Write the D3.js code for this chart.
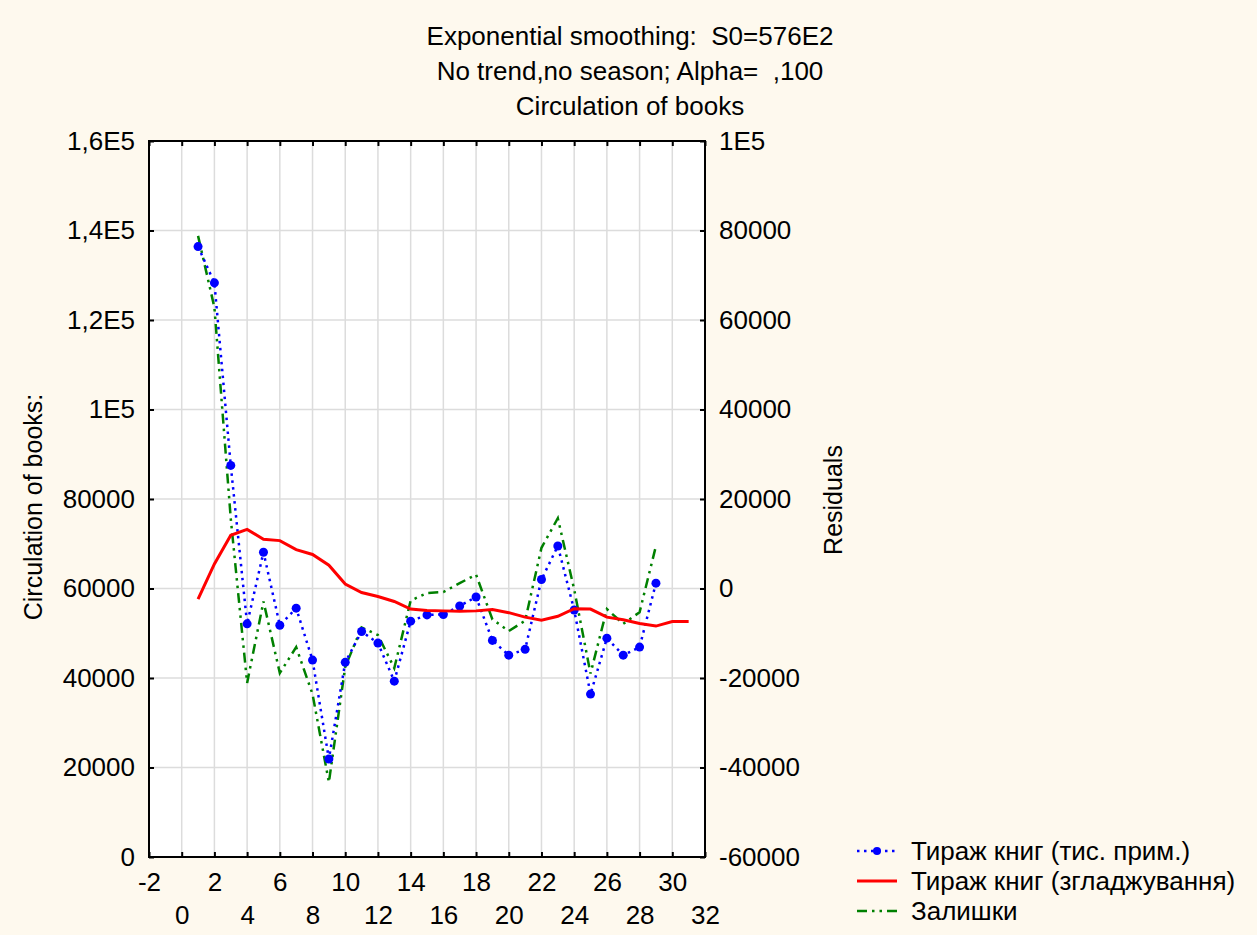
<!DOCTYPE html>
<html>
<head>
<meta charset="utf-8">
<script src="https://cdn.jsdelivr.net/npm/d3@7"></script>
<style>
  body { margin: 0; background: #fef9ee; }
  svg { display: block; font-family: "Liberation Sans", Arial, sans-serif; }
  svg text { white-space: pre; }
</style>
</head>
<body>
<div id="chart"></div>
<script>
// data
const periods = d3.range(1, 30)            // 1..29 observed
const smoothPeriods = d3.range(1, 32)      // 1..31 smoothed
const observed = [136400, 128300, 87500, 52100, 68100, 51800, 55600, 44000, 21900, 43500,
                  50400, 47800, 39300, 52700, 54100, 54200, 56100, 58100, 48400, 45100,
                  46400, 62000, 69500, 55200, 36400, 48900, 45100, 46900, 61200]
const smoothed = [57600, 65500, 71900, 73200, 71000, 70700, 68700, 67600, 65200, 61000,
                  59100, 58200, 57100, 55400, 55100, 55000, 54900, 55000, 55300, 54600,
                  53600, 52900, 53800, 55500, 55400, 53600, 53000, 52200, 51600, 52600, 52600]
const residuals = [78800, 62800, 15600, -21100, -2900, -18900, -13100, -23600, -43300, -17500,
                   -8700, -10400, -17800, -2700, -1000, -800, 1200, 3100, -6900, -9500,
                   -7200, 9100, 15700, -200, -19000, -4600, -7900, -5300, 9500]

const titleLines = ["Exponential smoothing:  S0=576E2", "No trend,no season; Alpha=  ,100", "Circulation of books"]
const leftTicks = [0, 20000, 40000, 60000, 80000, 100000, 120000, 140000, 160000]
const leftLabels = ["0", "20000", "40000", "60000", "80000", "1E5", "1,2E5", "1,4E5", "1,6E5"]
const rightTicks = [-60000, -40000, -20000, 0, 20000, 40000, 60000, 80000, 100000]
const rightLabels = ["-60000", "-40000", "-20000", "0", "20000", "40000", "60000", "80000", "1E5"]
const xTicks = d3.range(-2, 33, 2)
const legendNames = ["Тираж книг (тис. прим.)", "Тираж книг (згладжування)", "Залишки"]

const W = 1257, H = 935
const plot = {left: 149, right: 705, top: 141, bottom: 857}
const fs = 26      // horizontal text
const fsRot = 25   // rotated axis titles

const svg = d3.select("#chart").append("svg")
  .attr("width", W).attr("height", H)

svg.append("rect").attr("width", W).attr("height", H).attr("fill", "#fef9ee")

const x = d3.scaleLinear().domain([-2, 32]).range([plot.left, plot.right])
const yL = d3.scaleLinear().domain([0, 160000]).range([plot.bottom, plot.top])
const yR = d3.scaleLinear().domain([-60000, 100000]).range([plot.bottom, plot.top])

// plot background
svg.append("rect")
  .attr("x", plot.left).attr("y", plot.top)
  .attr("width", plot.right - plot.left).attr("height", plot.bottom - plot.top)
  .attr("fill", "white")

// grid
svg.append("g").selectAll("line")
  .data(xTicks.filter(d => d > -2 && d < 32))
  .join("line")
  .attr("x1", d => x(d)).attr("x2", d => x(d))
  .attr("y1", plot.top).attr("y2", plot.bottom)
  .attr("stroke", "#dcdcdc").attr("stroke-width", 1.5)
svg.append("g").selectAll("line")
  .data(leftTicks.slice(1, -1))
  .join("line")
  .attr("x1", plot.left).attr("x2", plot.right)
  .attr("y1", d => yL(d)).attr("y2", d => yL(d))
  .attr("stroke", "#dcdcdc").attr("stroke-width", 1.5)

// axes
function styleAxis(g){
  g.select(".domain").remove()
  g.selectAll(".tick line").attr("stroke", "#000").attr("stroke-width", 2)
  g.selectAll(".tick text").attr("fill", "#000").style("font-size", fs + "px")
}

svg.append("g")
  .attr("transform", `translate(${plot.left},0)`)
  .call(d3.axisLeft(yL).tickValues(leftTicks).tickSize(-5).tickPadding(14)
    .tickFormat((d, i) => leftLabels[i]))
  .call(styleAxis)

svg.append("g")
  .attr("transform", `translate(${plot.right},0)`)
  .call(d3.axisRight(yR).tickValues(rightTicks).tickSize(-5).tickPadding(14)
    .tickFormat((d, i) => rightLabels[i]))
  .call(styleAxis)

const xAxis = svg.append("g")
  .attr("transform", `translate(0,${plot.bottom})`)
  .call(d3.axisBottom(x).tickValues(xTicks).tickSize(-5).tickPadding(16)
    .tickFormat(d => d))
  .call(styleAxis)
xAxis.selectAll(".tick text")
  .attr("dy", (d, i) => i % 2 === 0 ? "0.71em" : "1.97em")

svg.append("g")
  .attr("transform", `translate(0,${plot.top})`)
  .call(d3.axisTop(x).tickValues(xTicks).tickSize(-5).tickFormat(""))
  .call(styleAxis)

// frame
svg.append("rect")
  .attr("x", plot.left).attr("y", plot.top)
  .attr("width", plot.right - plot.left).attr("height", plot.bottom - plot.top)
  .attr("fill", "none").attr("stroke", "#000").attr("stroke-width", 2)

// series
const lineL = d3.line().x(d => x(d[0])).y(d => yL(d[1]))
const lineR = d3.line().x(d => x(d[0])).y(d => yR(d[1]))

svg.append("path")
  .datum(periods.map((p, i) => [p, residuals[i]]))
  .attr("d", lineR)
  .attr("fill", "none").attr("stroke", "#008000").attr("stroke-width", 2.5)
  .attr("stroke-dasharray", "10,5,2.5,5,2.5,5")

svg.append("path")
  .datum(periods.map((p, i) => [p, observed[i]]))
  .attr("d", lineL)
  .attr("fill", "none").attr("stroke", "#0000ff").attr("stroke-width", 2.5)
  .attr("stroke-dasharray", "2.5,4.5")

svg.append("g").selectAll("circle")
  .data(periods.map((p, i) => [p, observed[i]]))
  .join("circle")
  .attr("cx", d => x(d[0])).attr("cy", d => yL(d[1]))
  .attr("r", 4.5).attr("fill", "#0000ff")

svg.append("path")
  .datum(smoothPeriods.map((p, i) => [p, smoothed[i]]))
  .attr("d", lineL)
  .attr("fill", "none").attr("stroke", "#ff0000").attr("stroke-width", 3)

// titles
svg.append("g").selectAll("text")
  .data(titleLines)
  .join("text")
  .attr("x", 630).attr("y", (d, i) => 36 + i * 35)
  .attr("dy", "0.35em")
  .attr("text-anchor", "middle")
  .style("font-size", fs + "px")
  .text(d => d)

svg.append("text")
  .attr("transform", "translate(33,507) rotate(-90)")
  .attr("dy", "0.35em").attr("text-anchor", "middle")
  .style("font-size", fsRot + "px")
  .text("Circulation of books:")

svg.append("text")
  .attr("transform", "translate(833,500) rotate(-90)")
  .attr("dy", "0.35em").attr("text-anchor", "middle")
  .style("font-size", fsRot + "px")
  .text("Residuals")

// legend
const legend = svg.append("g").attr("transform", "translate(857,851)")
const rows = legend.selectAll("g").data(legendNames).join("g")
  .attr("transform", (d, i) => `translate(0,${i * 30})`)
rows.append("line")
  .attr("x1", 0).attr("x2", 40).attr("y1", 0).attr("y2", 0)
  .attr("stroke", (d, i) => ["#0000ff", "#ff0000", "#008000"][i])
  .attr("stroke-width", (d, i) => i === 1 ? 3 : 2.5)
  .attr("stroke-dasharray", (d, i) => ["2.5,4.5", null, "10,5,2.5,5,2.5,5"][i])
legend.append("circle").attr("cx", 20).attr("cy", 0).attr("r", 4).attr("fill", "#0000ff")
rows.append("text")
  .attr("x", 54).attr("dy", "0.35em")
  .style("font-size", fs + "px")
  .text(d => d)
</script>
</body>
</html>
